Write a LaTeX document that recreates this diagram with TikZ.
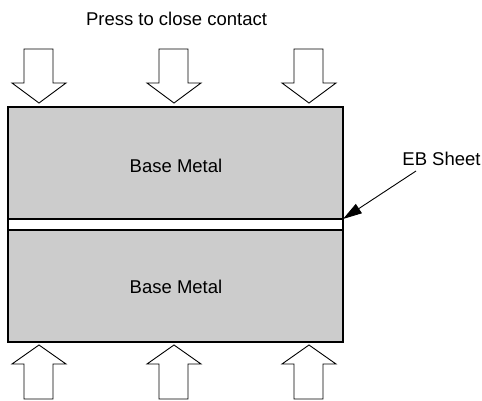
\documentclass[tikz,border=0pt]{standalone}
\usepackage{fontspec}
\setmainfont{Liberation Sans}
\usetikzlibrary{arrows.meta}
\definecolor{metal}{HTML}{CCCCCC}
\tikzset{
  x=1pt,y=-1pt,
  metalbox/.style={draw=black,fill=metal,line width=1.2pt},
  bigarrow/.style={draw=black,fill=white,line width=0.9pt,line join=miter},
  lbl/.style={font=\fontsize{18.5}{21}\selectfont,inner sep=0pt,anchor=base},
}
\begin{document}
\begin{tikzpicture}
\useasboundingbox (0,0) rectangle (482,401);
% blocks
\draw[metalbox] (8,107) rectangle (343,219);
\draw[draw=black,fill=white,line width=1.2pt] (8,219) rectangle (343,230);
\draw[metalbox] (8,230) rectangle (343,342);
\node[lbl] (top) at (176,172) {Base Metal};
\node[lbl] (bot) at (176,293) {Base Metal};
\node[lbl] (title) at (176.5,25.5) {Press to close contact};
% arrows
\foreach \c/\n in {39/a,174/b,309/c}{
  \draw[bigarrow] (\c-15,49) -- (\c+14,49) -- (\c+14,83) -- (\c+27,83) -- (\c,103) -- (\c-27,83) -- (\c-15,83) -- cycle;
  \draw[bigarrow] (\c-15,399) -- (\c+14,399) -- (\c+14,364) -- (\c+27,364) -- (\c,345) -- (\c-27,364) -- (\c-15,364) -- cycle;
}
% EB sheet
\node[lbl] (eb) at (441.5,165) {EB Sheet};
\coordinate (ebtip) at (343,219);
\coordinate (ebstart) at (416,171);
\draw[line width=0.9pt,-{Triangle[length=19pt,width=11pt]}] (ebstart) -- (ebtip);
\end{tikzpicture}
\end{document}
